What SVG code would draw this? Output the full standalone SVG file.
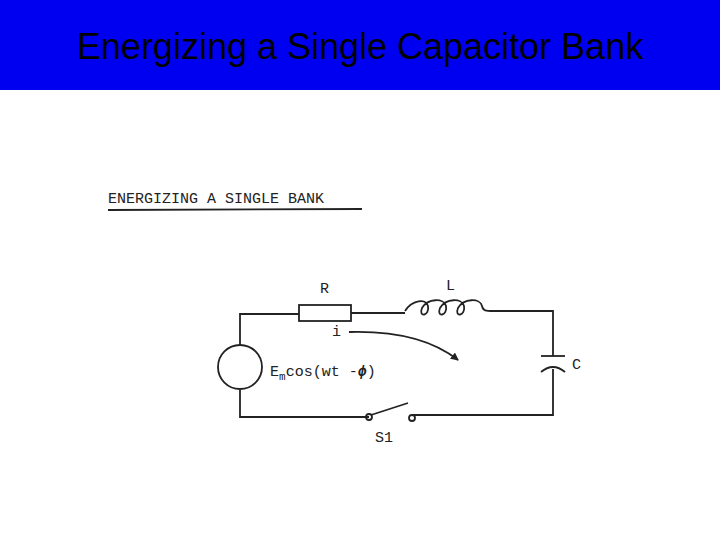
<svg xmlns="http://www.w3.org/2000/svg" width="720" height="540" viewBox="0 0 720 540">
<style>
.w{fill:none;stroke:#222;stroke-width:1.8}
.t{font-family:"Liberation Mono",monospace;font-size:15px;fill:#222}
</style>
<defs><marker id="ah" markerWidth="8" markerHeight="8" refX="7" refY="4" orient="auto" markerUnits="userSpaceOnUse"><path d="M0,0L8,4L0,8z" fill="#222"/></marker></defs>
<rect width="720" height="540" fill="#fff"/>
<rect width="720" height="90" fill="#0000f0"/>
<text x="360" y="59" text-anchor="middle" font-family="Liberation Sans,Arial,sans-serif" font-size="36" fill="#000">Energizing a Single Capacitor Bank</text>
<text x="108" y="203" class="t" font-size="14">ENERGIZING A SINGLE BANK</text>
<line x1="108" y1="210" x2="362" y2="209" class="w" stroke-width="1.5"/>
<g id="connectors">
<path class="w" d="M240,345V314H299M351,313H405M493,311H553V356M553,369V415H412M369,417H240V390"/>
<path class="w" d="M349,332Q420,330 458,360" marker-end="url(#ah)"/>
</g>
<g id="source"><circle cx="240" cy="367" r="22" class="w"/><text x="270" y="376" class="t">E<tspan font-size="11" dy="4">m</tspan><tspan dy="-4">cos(wt -</tspan><tspan font-style="italic" font-weight="bold">ϕ</tspan>)</text></g>
<g id="R"><rect x="299" y="305" width="52" height="16" class="w" fill="#fff"/><text x="320" y="293" class="t">R</text></g>
<g id="L"><path class="w" d="M405,311C412,300 426,298 428,306C430,316 418,318 422,308C428,298 444,298 446,306C448,316 436,318 440,308C446,298 462,298 464,306C466,316 454,318 458,308C464,298 480,298 482,306C483,311 486,311 493,311"/><text x="446" y="290" class="t">L</text></g>
<g id="C"><line x1="541" y1="356" x2="565" y2="356" class="w"/><path class="w" d="M541,372Q553,362 565,372"/><text x="572" y="369" class="t">C</text></g>
<g id="S1"><circle cx="369" cy="417" r="3" class="w" fill="#fff"/><circle cx="412" cy="418" r="3" class="w" fill="#fff"/><line x1="371" y1="415" x2="408" y2="403" class="w"/><text x="375" y="442" class="t">S1</text></g>
<text x="332" y="336" class="t">i</text>
</svg>
